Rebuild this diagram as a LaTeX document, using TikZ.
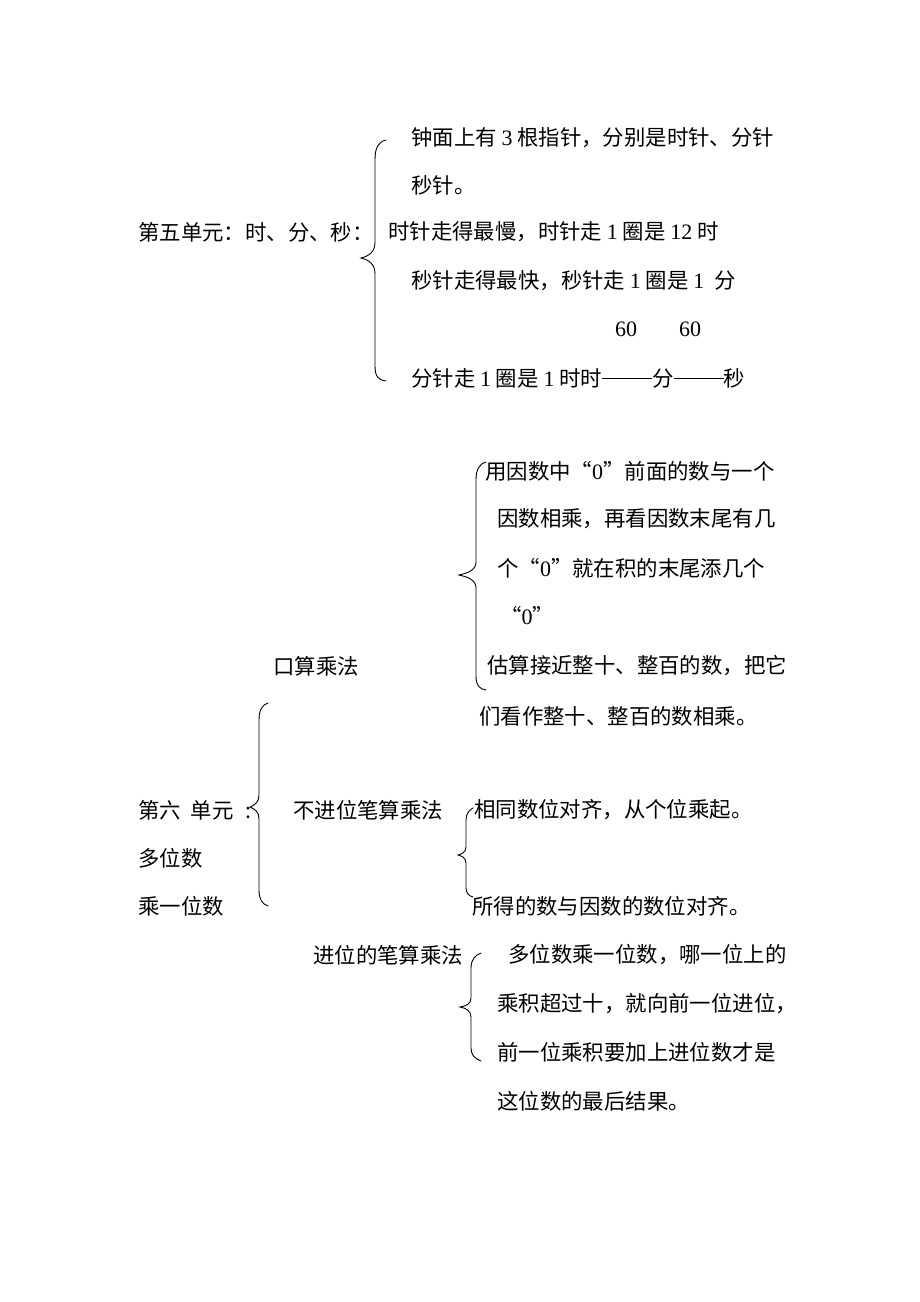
\documentclass[tikz,border=0pt]{standalone}
\usepackage{fontspec}
\setmainfont{Liberation Serif}
\newfontfamily\cjk{Noto Sans CJK SC}
\newcommand{\tm}[1]{{\rmfamily\fontsize{22}{25}\selectfont #1}}
\newcommand{\dsh}{\rule[0.33em]{50pt}{0.8pt}}
\begin{document}
\begin{tikzpicture}[x=1pt,y=-1pt,
  txt/.style={anchor=west,inner sep=0pt,font=\cjk\fontsize{21.4}{25}\selectfont},
  brc/.style={line width=0.9pt,line cap=round}]
\useasboundingbox[fill=white] (0,0) rectangle (920,1302);
% ---- Unit 5
\node[txt] (a1) at (411,138) {钟面上有 \tm{3} 根指针，分别是时针、分针};
\node[txt] (a2) at (411,185) {秒针。};
\node[txt] (u5) at (138,232) {第五单元：时、分、秒：};
\node[txt] (a3) at (388,232) {时针走得最慢，时针走 \tm{1} 圈是 \tm{12} 时};
\node[txt] (a4) at (411,281) {秒针走得最快，秒针走 \tm{1} 圈是 \tm{1}\hspace{10pt}分};
\node[txt,anchor=center] (n1) at (626,329) {\tm{60}};
\node[txt,anchor=center] (n2) at (690,329) {\tm{60}};
\node[txt] (a5) at (411,378) {分针走 \tm{1} 圈是 \tm{1} 时时\dsh 分\dsh 秒};
\draw[brc] (386,140) .. controls (378,142) and (375,148) .. (375,160)
  -- (375,242) .. controls (375,252) and (369,256) .. (361,258)
  .. controls (369,260) and (375,264) .. (375,274)
  -- (375,366) .. controls (375,376) and (378,380) .. (386,381);
% ---- Mental multiplication
\node[txt] (b1) at (485,471) {用因数中“\tm{0}”前面的数与一个};
\node[txt] (b2) at (497,519) {因数相乘，再看因数末尾有几};
\node[txt] (b3) at (497,568) {个“\tm{0}”就在积的末尾添几个};
\node[txt] (b4) at (500,616) {“\tm{0}”};
\node[txt] (b5) at (487,666) {估算接近整十、整百的数，把它};
\node[txt] (b6) at (479,716) {们看作整十、整百的数相乘。};
\node[txt] (ks) at (273,666) {口算乘法};
\draw[brc] (486,462) .. controls (479,464) and (476,470) .. (476,480)
  -- (476,562) .. controls (476,570) and (468,573) .. (459,575)
  .. controls (468,577) and (476,580) .. (476,588)
  -- (476,676) .. controls (476,685) and (479,689) .. (486,690);
% ---- Unit 6
\node[txt] (u6a) at (138,810) {第六\hspace{10pt}单元\hspace{12pt}:};
\node[txt] (u6b) at (138,858) {多位数};
\node[txt] (u6c) at (138,906) {乘一位数};
\draw[brc] (268,703) .. controls (262,705) and (259,710) .. (259,720)
  -- (259,795) .. controls (259,802) and (255,805) .. (250,807)
  .. controls (255,809) and (259,812) .. (259,819)
  -- (259,890) .. controls (259,899) and (262,904) .. (268,906);
\node[txt] (bj) at (293,810) {不进位笔算乘法};
\node[txt] (c1) at (474,810) {相同数位对齐，从个位乘起。};
\node[txt] (c2) at (472,906) {所得的数与因数的数位对齐。};
\draw[brc] (473,808) .. controls (469,810) and (466,814) .. (466,820)
  -- (466,847) .. controls (466,852) and (462,854) .. (458,855)
  .. controls (462,856) and (466,858) .. (466,863)
  -- (466,888) .. controls (466,893) and (469,896) .. (473,897);
\node[txt] (jw) at (313,955) {进位的笔算乘法};
\node[txt] (d1) at (508,955) {多位数乘一位数，哪一位上的};
\node[txt] (d2) at (497,1004) {乘积超过十，就向前一位进位，};
\node[txt] (d3) at (497,1052) {前一位乘积要加上进位数才是};
\node[txt] (d4) at (497,1101) {这位数的最后结果。};
\draw[brc] (481,953) .. controls (475,955) and (471,960) .. (471,968)
  -- (471,998) .. controls (471,1004) and (466,1006) .. (460,1007)
  .. controls (466,1008) and (471,1011) .. (471,1017)
  -- (471,1048) .. controls (471,1055) and (475,1059) .. (481,1061);
\end{tikzpicture}
\end{document}
